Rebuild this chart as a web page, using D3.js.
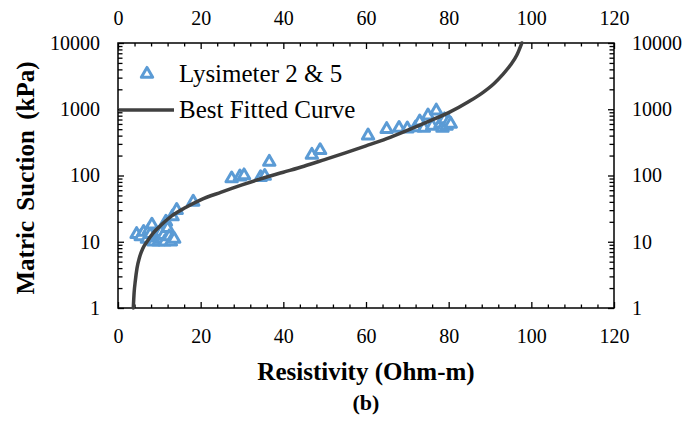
<!DOCTYPE html>
<html>
<head>
<meta charset="utf-8">
<script src="https://cdn.jsdelivr.net/npm/d3@7"></script>
<style>
  html, body { margin: 0; padding: 0; background: #fff; }
  svg { display: block; }
  text { font-family: "Liberation Serif", "Times New Roman", serif; fill: #000; }
</style>
</head>
<body>
<svg id="chart" width="691" height="421"></svg>
<script>
// Resistivity (Ohm-m) vs matric suction (kPa), lysimeters 2 & 5
const lysResistivity = [4.5, 5.5, 6.2, 7.0, 7.5, 7.8, 8.2, 8.6, 9.0, 9.2, 9.6, 9.8, 10.2, 10.4, 10.8, 11.0, 11.3, 11.6, 12.0, 12.4, 12.8, 13.2, 13.6, 14.2, 18.2,
                        27.5, 29.5, 30.5, 34.5, 35.5, 36.6, 46.9, 48.9,
                        60.5, 65.0, 68.0, 70.0, 72.0, 73.0, 74.0, 75.0, 76.0, 77.0, 78.0, 78.5, 79.0, 79.5, 80.0, 80.5];
const lysSuction = [13, 12, 14, 11, 15, 13, 18, 10, 11.5, 12, 13, 10, 11, 14, 11, 12.5, 10, 20, 16, 12, 10, 24, 11, 30, 40,
                    90, 96, 100, 94, 98, 160, 204, 240,
                    400, 500, 520, 510, 530, 650, 520, 800, 560, 950, 600, 520, 700, 560, 650, 600];

// Best fitted curve
const fitResistivity = [3.7, 3.9, 4.2, 4.6, 5.2, 6.0, 7.0, 8.5, 10.5, 13, 16, 20, 25, 30, 35, 40, 45, 50, 55, 60,
                        65, 70, 75, 80, 85, 88, 91, 93, 95, 96.5, 97.7];
const fitSuction = [1, 1.7, 2.6, 4, 5.8, 7.9, 10, 13.5, 18, 24.5, 32, 43, 56, 72, 91, 112, 138, 174, 220, 280,
                    360, 480, 650, 890, 1320, 1740, 2450, 3300, 4700, 6600, 10000];

const xTicks = [0, 20, 40, 60, 80, 100, 120];
const yTicks = [1, 10, 100, 1000, 10000];
const xLabel = "Resistivity (Ohm-m)";
const yLabel = "Matric Suction (kPa)";
const subLabel = "(b)";
const legendLabels = ["Lysimeter 2 & 5", "Best Fitted Curve"];

const blue = "#5B9BD5";
const dark = "#404040";

const svg = d3.select("#chart");
const L = 118, R = 614, T = 43, B = 308;

const x = d3.scaleLinear().domain([0, 120]).range([L, R]);
const y = d3.scaleLog().domain([1, 10000]).range([B, T]);

const xMinor = d3.range(0, 121, 4).filter(v => v % 20 !== 0);
const yMinor = [];
[1, 10, 100, 1000].forEach(d => { for (let k = 2; k <= 9; k++) yMinor.push(d * k); });

const tickFont = 20;

function styleAxis(g) {
  g.select(".domain").remove();
  g.selectAll("line").attr("stroke", "#000").attr("stroke-width", 1.3);
  g.selectAll("text").style("font-size", tickFont + "px").attr("fill", "#000");
}

// minor ticks
svg.append("g").attr("transform", `translate(0,${B})`)
  .call(d3.axisBottom(x).tickValues(xMinor).tickSizeInner(-3.5).tickSizeOuter(0).tickFormat(""))
  .call(styleAxis);
svg.append("g").attr("transform", `translate(0,${T})`)
  .call(d3.axisTop(x).tickValues(xMinor).tickSizeInner(-3.5).tickSizeOuter(0).tickFormat(""))
  .call(styleAxis);
svg.append("g").attr("transform", `translate(${L},0)`)
  .call(d3.axisLeft(y).tickValues(yMinor).tickSizeInner(-4.5).tickSizeOuter(0).tickFormat(""))
  .call(styleAxis);
svg.append("g").attr("transform", `translate(${R},0)`)
  .call(d3.axisRight(y).tickValues(yMinor).tickSizeInner(-4.5).tickSizeOuter(0).tickFormat(""))
  .call(styleAxis);

// major ticks and labels
svg.append("g").attr("transform", `translate(0,${B})`)
  .call(d3.axisBottom(x).tickValues(xTicks).tickSizeInner(-6).tickSizeOuter(0).tickPadding(21).tickFormat(d3.format("d")))
  .call(styleAxis);
svg.append("g").attr("transform", `translate(0,${T})`)
  .call(d3.axisTop(x).tickValues(xTicks).tickSizeInner(-6).tickSizeOuter(0).tickPadding(18).tickFormat(d3.format("d")))
  .call(styleAxis);
svg.append("g").attr("transform", `translate(${L},0)`)
  .call(d3.axisLeft(y).tickValues(yTicks).tickSizeInner(-6).tickSizeOuter(0).tickPadding(18).tickFormat(d3.format("d")))
  .call(styleAxis);
svg.append("g").attr("transform", `translate(${R},0)`)
  .call(d3.axisRight(y).tickValues(yTicks).tickSizeInner(-6).tickSizeOuter(0).tickPadding(18).tickFormat(d3.format("d")))
  .call(styleAxis);

// plot frame
svg.append("rect")
  .attr("x", L).attr("y", T).attr("width", R - L).attr("height", B - T)
  .attr("fill", "none").attr("stroke", "#000").attr("stroke-width", 1.5);

// triangle markers
const tri = d3.symbol().type(d3.symbolTriangle).size(56);
const pts = lysResistivity.map((v, i) => [v, lysSuction[i]]);
svg.append("g").selectAll("path").data(pts).join("path")
  .attr("d", tri)
  .attr("transform", d => `translate(${x(d[0])},${y(d[1])})`)
  .attr("fill", "#fff").attr("stroke", blue).attr("stroke-width", 3)
  .attr("stroke-linejoin", "round");

// fitted curve
const fit = fitResistivity.map((v, i) => [v, fitSuction[i]]);
svg.append("path").datum(fit)
  .attr("d", d3.line().x(d => x(d[0])).y(d => y(d[1])).curve(d3.curveMonotoneX))
  .attr("fill", "none").attr("stroke", dark).attr("stroke-width", 3.5)
  .attr("stroke-linecap", "round");

// legend
const lg = svg.append("g");
lg.append("path").attr("d", tri).attr("transform", "translate(147,74)")
  .attr("fill", "#fff").attr("stroke", blue).attr("stroke-width", 3).attr("stroke-linejoin", "round");
lg.append("text").attr("x", 179).attr("y", 82).style("font-size", "25px").text(legendLabels[0]);
lg.append("line").attr("x1", 119).attr("x2", 174).attr("y1", 110).attr("y2", 110)
  .attr("stroke", dark).attr("stroke-width", 3.5);
lg.append("text").attr("x", 179).attr("y", 118).style("font-size", "25px").text(legendLabels[1]);

// axis titles
svg.append("text").attr("x", (L + R) / 2).attr("y", 380)
  .attr("text-anchor", "middle").style("font-size", "25px").style("font-weight", "bold")
  .text(xLabel);
svg.append("text").attr("x", (L + R) / 2).attr("y", 410)
  .attr("text-anchor", "middle").style("font-size", "22px").style("font-weight", "bold")
  .text(subLabel);
svg.append("text").attr("transform", `translate(34,178) rotate(-90)`)
  .attr("text-anchor", "middle").style("font-size", "25px").style("font-weight", "bold")
  .style("word-spacing", "4px")
  .text(yLabel);
</script>
</body>
</html>
